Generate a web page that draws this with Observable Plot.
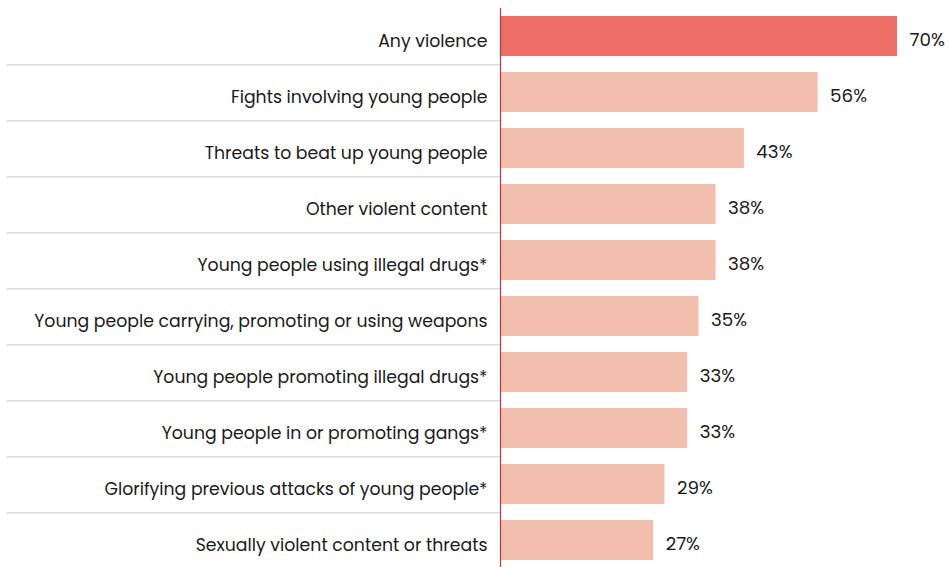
<!DOCTYPE html>
<html>
<head>
<meta charset="utf-8">
<script src="https://cdn.jsdelivr.net/npm/d3@7"></script>
<script src="https://cdn.jsdelivr.net/npm/@observablehq/plot@0.6"></script>
<style>
  html, body { margin: 0; padding: 0; background: #fff; }
  #chart svg { display: block; }
</style>
</head>
<body>
<div id="chart"></div>
<script>
const categories = [
  "Any violence",
  "Fights involving young people",
  "Threats to beat up young people",
  "Other violent content",
  "Young people using illegal drugs*",
  "Young people carrying, promoting or using weapons",
  "Young people promoting illegal drugs*",
  "Young people in or promoting gangs*",
  "Glorifying previous attacks of young people*",
  "Sexually violent content or threats"
];
const values = [70, 56, 43, 38, 38, 35, 33, 33, 29, 27];
const highlight = ["Any violence"];

const data = categories.map((c, i) => ({category: c, value: values[i], hi: highlight.includes(c)}));
const separators = categories.slice(1);

const font = "Poppins, 'Open Sans', sans-serif";
const W = 949, H = 567;
const bandTop = 7, bandBottom = 569;
const step = (bandBottom - bandTop) / categories.length;

const chart = Plot.plot({
  width: W,
  height: H,
  marginLeft: 500,
  marginRight: 52,
  marginTop: 8,
  marginBottom: 0,
  style: {fontFamily: font, fontSize: "17px", color: "#1a1a1a", background: "#fff"},
  x: {domain: [0, 70], axis: null},
  y: {domain: categories, range: [bandTop, bandBottom], paddingInner: 0.28, paddingOuter: 0.14, align: 0.5, axis: null},
  marks: [
    Plot.ruleY(separators, {y: d => d, x1: -87, x2: 0, dy: -step / 2 + 0.5, stroke: "#d4d4d4", strokeWidth: 1.2}),
    Plot.barX(data, {y: "category", x: "value", fill: d => d.hi ? "#ec6e67" : "#f2bfae"}),
    Plot.ruleX([0], {stroke: "#c0392b", strokeWidth: 1.2}),
    Plot.text(data, {y: "category", x: 0, text: "category", textAnchor: "end", dx: -13, dy: 4.5, fill: "#1a1a1a", fontSize: 17.3}),
    Plot.text(data, {y: "category", x: "value", text: d => d.value + "%", textAnchor: "start", dx: 12, dy: 3.5, fill: "#1a1a1a", fontSize: 18.3})
  ]
});
document.getElementById("chart").appendChild(chart);
</script>
</body>
</html>
